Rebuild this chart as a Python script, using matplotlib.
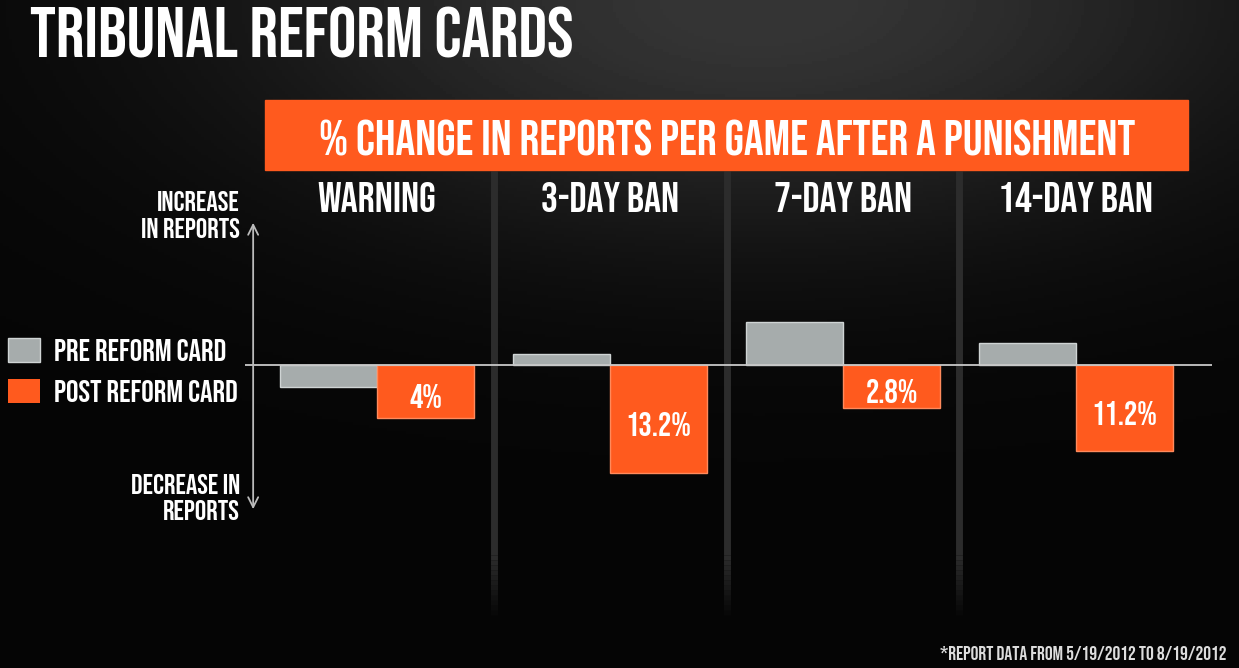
import numpy as np
import matplotlib
matplotlib.use('Agg')
import matplotlib.pyplot as plt
from matplotlib.patches import Patch

# Данные (высоты столбцов в условных единицах рисунка)
categories = ['WARNING', '3-DAY BAN', '7-DAY BAN', '14-DAY BAN']
pre_reform = [-2.2, 1.1, 4.3, 2.2]
post_reform = [-5.3, -10.8, -4.3, -8.6]
post_labels = ['4%', '13.2%', '2.8%', '11.2%']

ORANGE = '#ff5a1e'
GRAY = '#a6acac'
FONT = ['Bebas Neue', 'Oswald', 'Liberation Sans Narrow', 'DejaVu Sans']

W, H = 1239, 668
fig = plt.figure(figsize=(W / 100, H / 100), dpi=100)
fig.patch.set_facecolor('black')

def fx(x):
    return x / W

def fy(y):
    return 1 - y / H

# --- Фон: тёмный градиент ---
bg = fig.add_axes([0, 0, 1, 1], zorder=-10)
gx, gy = np.meshgrid(np.linspace(0, W, 400), np.linspace(0, H, 220))
shade = 0.19 * np.exp(-((gx - 760) / 520) ** 2 - (gy / 230) ** 2) + 0.02
bg.imshow(shade, cmap='gray', vmin=0, vmax=1, extent=[0, W, H, 0], aspect='auto')
bg.set_axis_off()

# --- Основная область графика ---
x0, x1, y0, y1 = 245, 1212, 171, 625
ax = fig.add_axes([fx(x0), fy(y1), fx(x1) - fx(x0), fy(y0) - fy(y1)])
ax.set_facecolor('none')
ymin, ymax = (365 - y1) / 10, (365 - y0) / 10
ax.set_xlim(-0.567, 3.584)
ax.set_ylim(ymin, ymax)
ax.set_axis_off()

x = np.arange(len(categories))
bw = 0.416

# разделители групп (внизу затухают)
seps = x[:-1] + 0.5
ax.vlines(seps, -19, ymax, color='#2c2c2c', lw=5, zorder=0)
for k, top in enumerate(np.arange(-19, ymin, -0.5)):
    ax.vlines(seps, top - 0.5, top, color='#2c2c2c', lw=5, zorder=0,
              alpha=max(0.0, 1 - k / 12))

ax.bar(x - bw / 2, pre_reform, bw, color=GRAY, edgecolor='#cfd4d4', lw=1, zorder=2)
ax.bar(x + bw / 2, post_reform, bw, color=ORANGE, edgecolor='#ff8a5c', lw=1, zorder=2)
ax.axhline(0, color='#c8c8c8', lw=1.3, zorder=3)

for xi, v, lbl in zip(x, post_reform, post_labels):
    ax.text(xi + bw / 2, v / 2 - 0.5, lbl, ha='center', va='center', color='white',
            fontsize=24, family=FONT, zorder=4)

for xi, cat in zip(x, categories):
    ax.text(xi, (365 - 212) / 10, cat, ha='center', va='baseline', color='white',
            fontsize=30.5, family=FONT)

# вертикальная ось-стрелка
ax.annotate('', xy=(-0.532, 14.5), xytext=(-0.532, -14.7),
            arrowprops=dict(arrowstyle='<->', color='#bbbbbb', lw=1.3,
                            mutation_scale=18))

# --- Тексты ---
fig.text(fx(30), fy(58), 'TRIBUNAL REFORM CARDS', color='white', fontsize=51,
         family=FONT, va='baseline')

fig.patches.append(plt.Rectangle((fx(265), fy(170)), fx(1188) - fx(265), fy(100) - fy(170),
                                 transform=fig.transFigure, color=ORANGE, zorder=1))
fig.text(fx(727), fy(155), '% CHANGE IN REPORTS PER GAME AFTER A PUNISHMENT', color='white',
         fontsize=35.5, family=FONT, ha='center', va='baseline', zorder=2)

fig.text(fx(240), fy(211), 'INCREASE', color='white', fontsize=20.5,
         family=FONT, ha='right', va='baseline')
fig.text(fx(240), fy(238), 'IN REPORTS', color='white', fontsize=20.5,
         family=FONT, ha='right', va='baseline')
fig.text(fx(240), fy(494), 'DECREASE IN', color='white', fontsize=20.5,
         family=FONT, ha='right', va='baseline')
fig.text(fx(240), fy(520), 'REPORTS', color='white', fontsize=20.5,
         family=FONT, ha='right', va='baseline')

fig.text(fx(940), fy(660), '*REPORT DATA FROM 5/19/2012 TO 8/19/2012', color='#dddddd',
         fontsize=14, family=FONT, va='baseline')

# легенда
handles = [Patch(facecolor=GRAY, edgecolor='#cfd4d4'), Patch(facecolor=ORANGE)]
fig.legend(handles, ['PRE REFORM CARD', 'POST REFORM CARD'], loc='upper left',
           bbox_to_anchor=(fx(8), fy(338)), frameon=False, labelcolor='white',
           prop=dict(family=FONT, size=22.5), handlelength=1.02,
           handleheight=0.8, handletextpad=0.45, labelspacing=0.55,
           borderpad=0, borderaxespad=0)

fig.savefig('out.png', dpi=100, facecolor='black')
